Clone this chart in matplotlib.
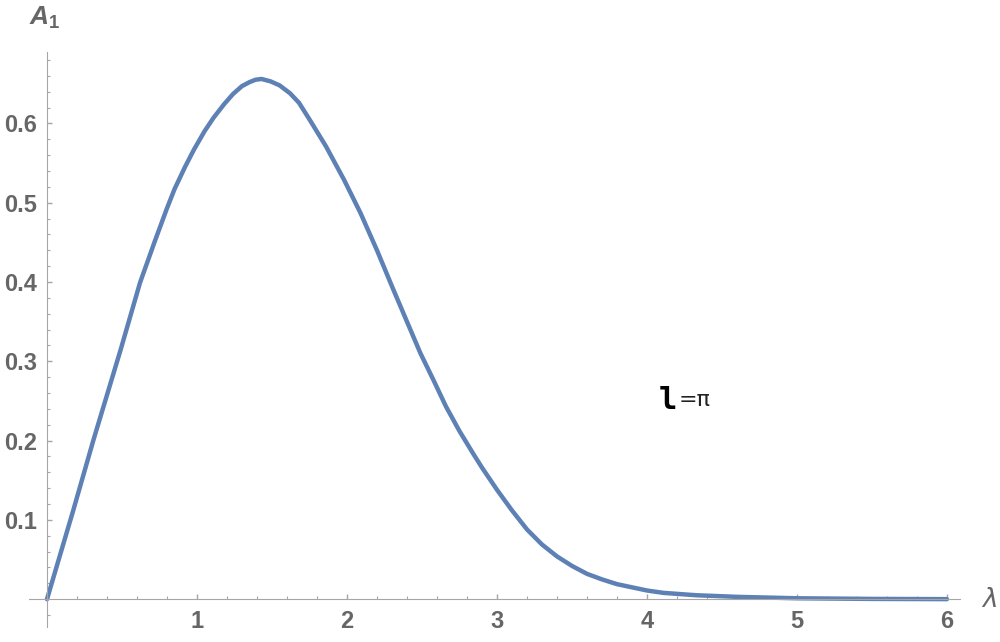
import matplotlib
matplotlib.use("Agg")
import matplotlib.pyplot as plt
from matplotlib.ticker import MultipleLocator, FixedLocator

plt.rcParams['mathtext.fontset'] = 'custom'
plt.rcParams['mathtext.it'] = 'Liberation Sans:italic:bold'
plt.rcParams['mathtext.rm'] = 'Liberation Sans:bold'

# values
lam = [0.0, 0.175, 0.31, 0.49, 0.62, 0.72, 0.8, 0.85, 0.92, 0.98, 1.05, 1.11, 1.18,
       1.24, 1.3, 1.35, 1.39, 1.43, 1.49, 1.55, 1.62, 1.68, 1.75, 1.86, 1.98, 2.09,
       2.2, 2.31, 2.4, 2.49, 2.58, 2.66, 2.75, 2.84, 2.9, 3.0, 3.1, 3.2, 3.3,
       3.4, 3.5, 3.6, 3.7, 3.8, 3.9, 4.0, 4.11, 4.33, 4.6, 5.0, 5.5, 6.0]
a1 = [0.0, 0.112, 0.201, 0.314, 0.399, 0.452, 0.493, 0.517, 0.545, 0.567, 0.590, 0.607, 0.624,
      0.637, 0.647, 0.652, 0.655, 0.656, 0.653, 0.648, 0.638, 0.626, 0.605, 0.571, 0.529, 0.487,
      0.440, 0.390, 0.350, 0.310, 0.275, 0.243, 0.212, 0.184, 0.166, 0.138, 0.112, 0.088, 0.069,
      0.054, 0.042, 0.032, 0.025, 0.019, 0.015, 0.011, 0.008, 0.005, 0.003, 0.0012, 0.0004, 0.0001]

x_ticks = [1, 2, 3, 4, 5, 6]
y_ticks = [0.1, 0.2, 0.3, 0.4, 0.5, 0.6]

axis_col = '#a6a6a6'
label_col = '#666666'

fig = plt.figure(figsize=(10, 6.42), dpi=100)
ax = fig.add_axes([0.029, 0.0234, 0.931, 0.8956])

ax.plot(lam, a1, color='#5e81b5', lw=3.2, solid_capstyle='round',
        solid_joinstyle='round', clip_on=False)

ax.set_xlim(-0.12, 6.087)
ax.set_ylim(-0.035, 0.69)

# axes through the origin
for s in ['top', 'right']:
    ax.spines[s].set_visible(False)
ax.spines['left'].set_position(('data', 0))
ax.spines['bottom'].set_position(('data', 0))
ax.spines['left'].set_color(axis_col)
ax.spines['bottom'].set_color(axis_col)

ax.xaxis.set_major_locator(FixedLocator(x_ticks))
ax.yaxis.set_major_locator(FixedLocator(y_ticks))
ax.xaxis.set_minor_locator(MultipleLocator(0.2))
ax.yaxis.set_minor_locator(MultipleLocator(0.02))
ax.set_xticklabels([str(t) for t in x_ticks])
ax.set_yticklabels([str(t) for t in y_ticks])

ax.tick_params(which='both', direction='in', color=axis_col)
ax.tick_params(which='major', length=3.8, width=1)
ax.tick_params(which='minor', length=1.9, width=0.8)
ax.tick_params(axis='x', which='major', pad=8)
ax.tick_params(axis='y', which='major', pad=7)
for lbl in ax.get_xticklabels() + ax.get_yticklabels():
    lbl.set_fontsize(17)
    lbl.set_fontweight('bold')
    lbl.set_color(label_col)
    lbl.set_fontfamily('Liberation Sans')

# axis labels
fig.text(0.045, 1 - 18 / 642, r'$A_1$', fontsize=19, color=label_col,
         ha='center', va='center')
fig.text(0.99, 1 - 600 / 642, 'λ', fontsize=19, color=label_col, style='italic',
         family='DejaVu Sans', ha='center', va='center')

# annotation
ax.text(4.2, 0.251, 'l', fontsize=22, fontweight='bold', family='DejaVu Sans Mono',
        color='black', ha='right', va='center')
ax.text(4.21, 0.251, '=π', fontsize=16, color='#222222', family='DejaVu Sans',
        ha='left', va='center')

fig.savefig('out.png', dpi=100)
